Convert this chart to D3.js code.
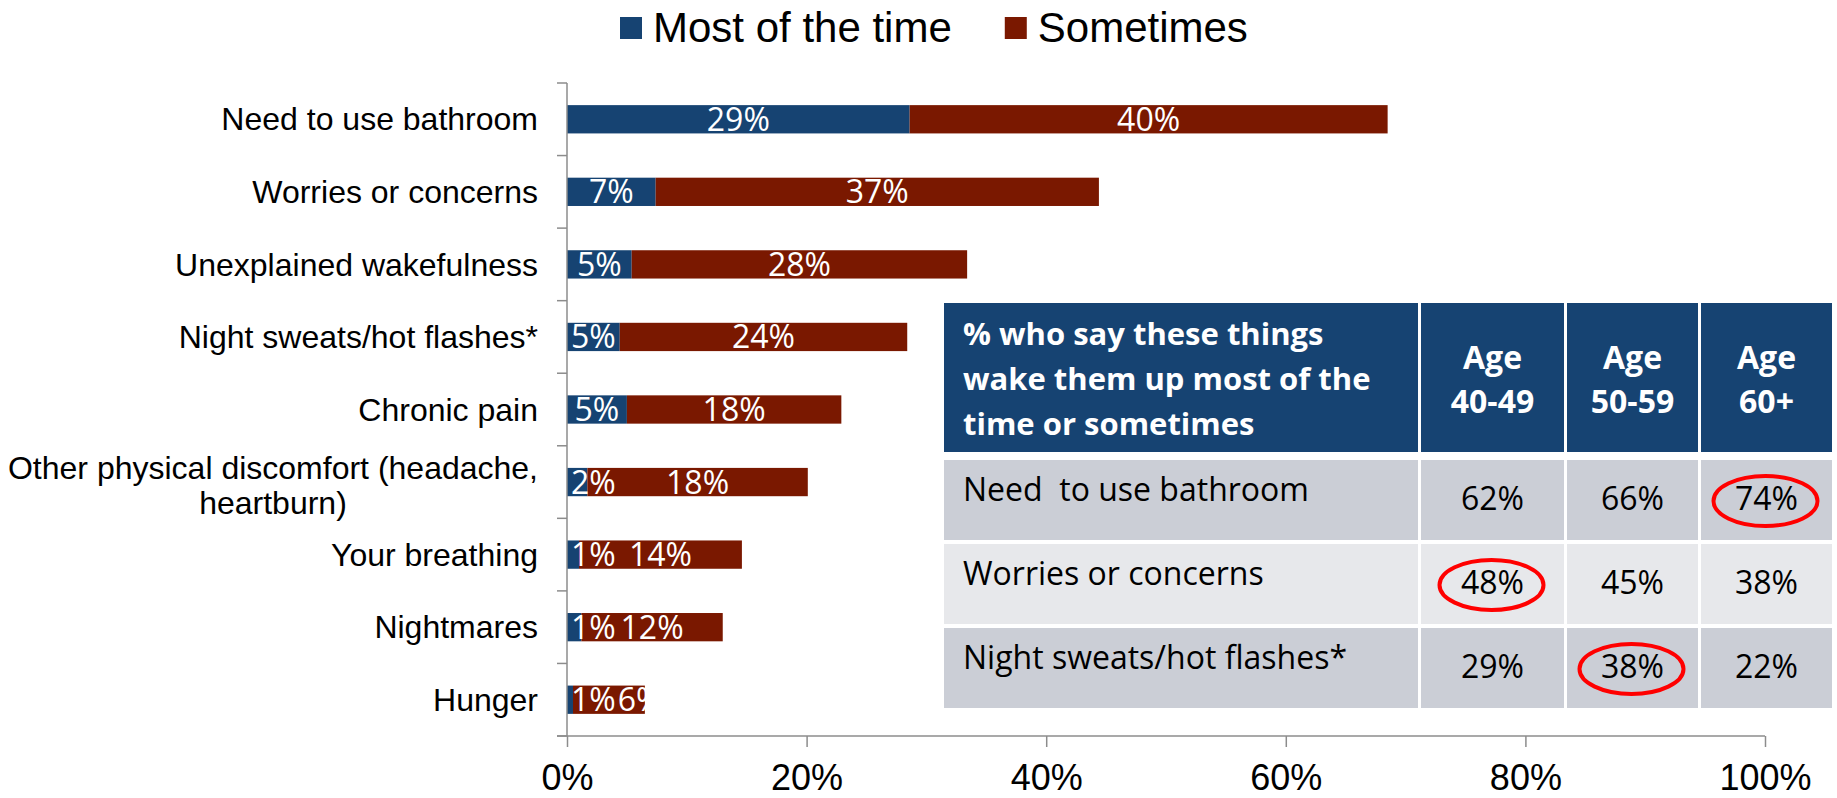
<html>
<head>
<meta charset="utf-8">
<script src="https://d3js.org/d3.v7.min.js"></script>
<style>
  body { margin: 0; background: #fff; }
</style>
</head>
<body>
<div id="my_dataviz"></div>
<script>
// categories, top to bottom
const categories = ["Need to use bathroom", "Worries or concerns", "Unexplained wakefulness",
  "Night sweats/hot flashes*", "Chronic pain", "Other physical discomfort (headache, heartburn)",
  "Your breathing", "Nightmares", "Hunger"];
// bar values (% of respondents)
const mostOfTime = [28.6, 7.4, 5.4, 4.4, 5.0, 1.7, 1.0, 1.2, 0.5];
const sometimes  = [39.9, 37.0, 28.0, 24.0, 17.9, 18.4, 13.6, 11.8, 6.0];
// the data labels as printed
const mostLabels = ["29%", "7%", "5%", "5%", "5%", "2%", "1%", "1%", "1%"];
const someLabels = ["40%", "37%", "28%", "24%", "18%", "18%", "14%", "12%", "6%"];
const seriesNames = ["Most of the time", "Sometimes"];
const xTicks = [0, 20, 40, 60, 80, 100];

// inset table
const tableTitle = ["% who say these things", "wake them up most of the", "time or sometimes"];
const ageGroups = [["Age", "40-49"], ["Age", "50-59"], ["Age", "60+"]];
const tableRows = ["Need  to use bathroom", "Worries or concerns", "Night sweats/hot flashes*"];
const tableVals = [[62, 66, 74], [48, 45, 38], [29, 38, 22]];
const circled = [[0, 2], [1, 0], [2, 1]]; // [row, age column]

const W = 1837, H = 798;
const blue = "#164372", red = "#7a1800", axisGrey = "#8c8c8c";
const armFont = "'Liberation Sans', Arial, sans-serif";
const labFont = "'Open Sans', 'Noto Sans', sans-serif";

const svg = d3.select("#my_dataviz").append("svg")
  .attr("width", W).attr("height", H);

// scales
const x = d3.scaleLinear().domain([0, 100]).range([567, 1765]);
const y = d3.scaleBand().domain(categories).range([83, 736])
  .paddingInner(0.61).paddingOuter(0.305);
const color = d3.scaleOrdinal().domain(["most", "some"]).range([blue, red]);

const rows = categories.map((c, i) => ({cat: c, most: mostOfTime[i], some: sometimes[i], i: i}));
const stacked = d3.stack().keys(["most", "some"])(rows);

// bars
svg.append("g").selectAll("g")
  .data(stacked)
  .join("g")
    .attr("fill", d => color(d.key))
  .selectAll("rect")
  .data(d => d)
  .join("rect")
    .attr("x", d => x(d[0]))
    .attr("y", d => y(d.data.cat))
    .attr("width", d => x(d[1]) - x(d[0]))
    .attr("height", y.bandwidth());

// data labels, centred in the segment, nudged so they don't overlap
const lblG = svg.append("g")
  .style("font-family", labFont).style("font-size", "32px").attr("fill", "#fff");
rows.forEach((r, i) => {
  const cy = y(r.cat) + y.bandwidth() / 2;
  const t1 = lblG.append("text").attr("text-anchor", "middle").attr("dy", "0.36em")
    .attr("y", cy).text(mostLabels[i]);
  const t2 = lblG.append("text").attr("text-anchor", "middle").attr("dy", "0.36em")
    .attr("y", cy).text(someLabels[i]);
  const w1 = t1.node().getComputedTextLength();
  const w2 = t2.node().getComputedTextLength();
  let c1 = (x(0) + x(r.most)) / 2;
  if (c1 - w1 / 2 < x(0) + 4) c1 = x(0) + 4 + w1 / 2;
  let c2 = (x(r.most) + x(r.most + r.some)) / 2;
  if (c2 - w2 / 2 < c1 + w1 / 2 + 2) c2 = c1 + w1 / 2 + 2 + w2 / 2;
  t1.attr("x", c1);
  t2.attr("x", c2);
});

// y axis: line with ticks between categories
const yAx = svg.append("g").attr("stroke", axisGrey).attr("stroke-width", 1.5);
yAx.append("line").attr("x1", x(0)).attr("x2", x(0)).attr("y1", y.range()[0]).attr("y2", y.range()[1]);
const bounds = categories.map(c => y(c) - y.step() * y.paddingOuter()).concat([y.range()[1]]);
yAx.selectAll(".tk").data(bounds).join("line")
  .attr("x1", x(0) - 10).attr("x2", x(0))
  .attr("y1", d => d).attr("y2", d => d);

// category labels (right aligned, long one wrapped and centred)
const catG = svg.append("g").style("font-family", armFont).style("font-size", "32px").attr("fill", "#000");
const labelRight = 538;
categories.forEach(c => {
  const cy = y(c) + y.bandwidth() / 2;
  const t = catG.append("text").attr("text-anchor", "end").attr("x", labelRight)
    .attr("y", cy).attr("dy", "0.35em").text(c);
  const w = t.node().getComputedTextLength();
  if (w > 540) {
    const words = c.split(" ");
    const lines = [];
    let cur = [];
    t.text("");
    words.forEach(wd => {
      t.text(cur.concat([wd]).join(" "));
      if (t.node().getComputedTextLength() > 540 && cur.length) {
        lines.push(cur.join(" "));
        cur = [wd];
      } else cur.push(wd);
    });
    lines.push(cur.join(" "));
    t.text(lines[0]);
    const bw = t.node().getComputedTextLength();
    t.remove();
    lines.forEach((ln, k) => {
      catG.append("text").attr("text-anchor", "middle")
        .attr("x", labelRight - bw / 2)
        .attr("y", cy + (k - (lines.length - 1) / 2) * 35 + 3)
        .attr("dy", "0.35em").text(ln);
    });
  }
});

// x axis
const xAx = svg.append("g").attr("transform", `translate(0, ${y.range()[1]})`)
  .call(d3.axisBottom(x).tickValues(xTicks).tickFormat(d => d + "%").tickSize(11).tickSizeOuter(0).tickPadding(17));
xAx.select(".domain").remove();
xAx.selectAll(".tick line").attr("stroke", axisGrey).attr("stroke-width", 1.5);
xAx.selectAll(".tick text").style("font-family", armFont).style("font-size", "36px").attr("fill", "#000");
xAx.append("line").attr("x1", x(0) - 10).attr("x2", x(100)).attr("y1", 0).attr("y2", 0)
  .attr("stroke", axisGrey).attr("stroke-width", 1.5);

// legend
const leg = svg.append("g").style("font-family", armFont).style("font-size", "42px");
let lx = 620;
seriesNames.forEach((s, i) => {
  leg.append("rect").attr("x", lx).attr("y", 17).attr("width", 22).attr("height", 22)
    .attr("fill", color.range()[i]);
  const t = leg.append("text").attr("x", lx + 33).attr("y", 42).attr("fill", "#000").text(s);
  lx += 33 + t.node().getComputedTextLength() + 53;
});

// inset table
const tbl = svg.append("g").style("font-family", labFont);
const colX = d3.scaleOrdinal().domain([0, 1, 2, 3]).range([944, 1421, 1567, 1701]);
const colW = d3.scaleOrdinal().domain([0, 1, 2, 3]).range([474, 143, 131, 131]);
const headTop = 303, headH = 149;
const rowY = d3.scaleBand().domain(tableRows).range([460, 708]).paddingInner(0.0476);
const rowFill = ["#cbced6", "#e7e8eb", "#cbced6"];

// header
[0, 1, 2, 3].forEach(c => {
  tbl.append("rect").attr("x", colX(c)).attr("y", headTop)
    .attr("width", colW(c)).attr("height", headH).attr("fill", blue);
});
tbl.append("g").style("font-weight", "bold").style("font-size", "31px").attr("fill", "#fff")
  .selectAll("text").data(tableTitle).join("text")
    .attr("x", colX(0) + 19).attr("y", (d, k) => headTop + 42 + k * 45).text(d => d);
ageGroups.forEach((g, k) => {
  tbl.append("g").style("font-weight", "bold").style("font-size", "32px").attr("fill", "#fff")
    .attr("text-anchor", "middle")
    .selectAll("text").data(g).join("text")
      .attr("x", colX(k + 1) + colW(k + 1) / 2)
      .attr("y", (d, j) => headTop + 66 + j * 44).text(d => d);
});

// body
tableRows.forEach((r, ri) => {
  const top = rowY(r);
  [0, 1, 2, 3].forEach(c => {
    tbl.append("rect").attr("x", colX(c)).attr("y", top)
      .attr("width", colW(c)).attr("height", rowY.bandwidth()).attr("fill", rowFill[ri]);
  });
  tbl.append("text").attr("x", colX(0) + 19).attr("y", top + 41)
    .style("white-space", "pre").style("font-size", "32px").attr("fill", "#000").text(r);
  tableVals[ri].forEach((v, ci) => {
    tbl.append("text").attr("text-anchor", "middle")
      .attr("x", colX(ci + 1) + colW(ci + 1) / 2).attr("y", top + 50)
      .style("font-size", "32px").attr("fill", "#000").text(v + "%");
  });
});

// red circles around the highest value per row
tbl.selectAll("ellipse").data(circled).join("ellipse")
  .attr("cx", d => colX(d[1] + 1) + colW(d[1] + 1) / 2 - 1)
  .attr("cy", d => rowY(tableRows[d[0]]) + 41)
  .attr("rx", 52).attr("ry", 25)
  .attr("fill", "none").attr("stroke", "#ff0000").attr("stroke-width", 4);
</script>
</body>
</html>
